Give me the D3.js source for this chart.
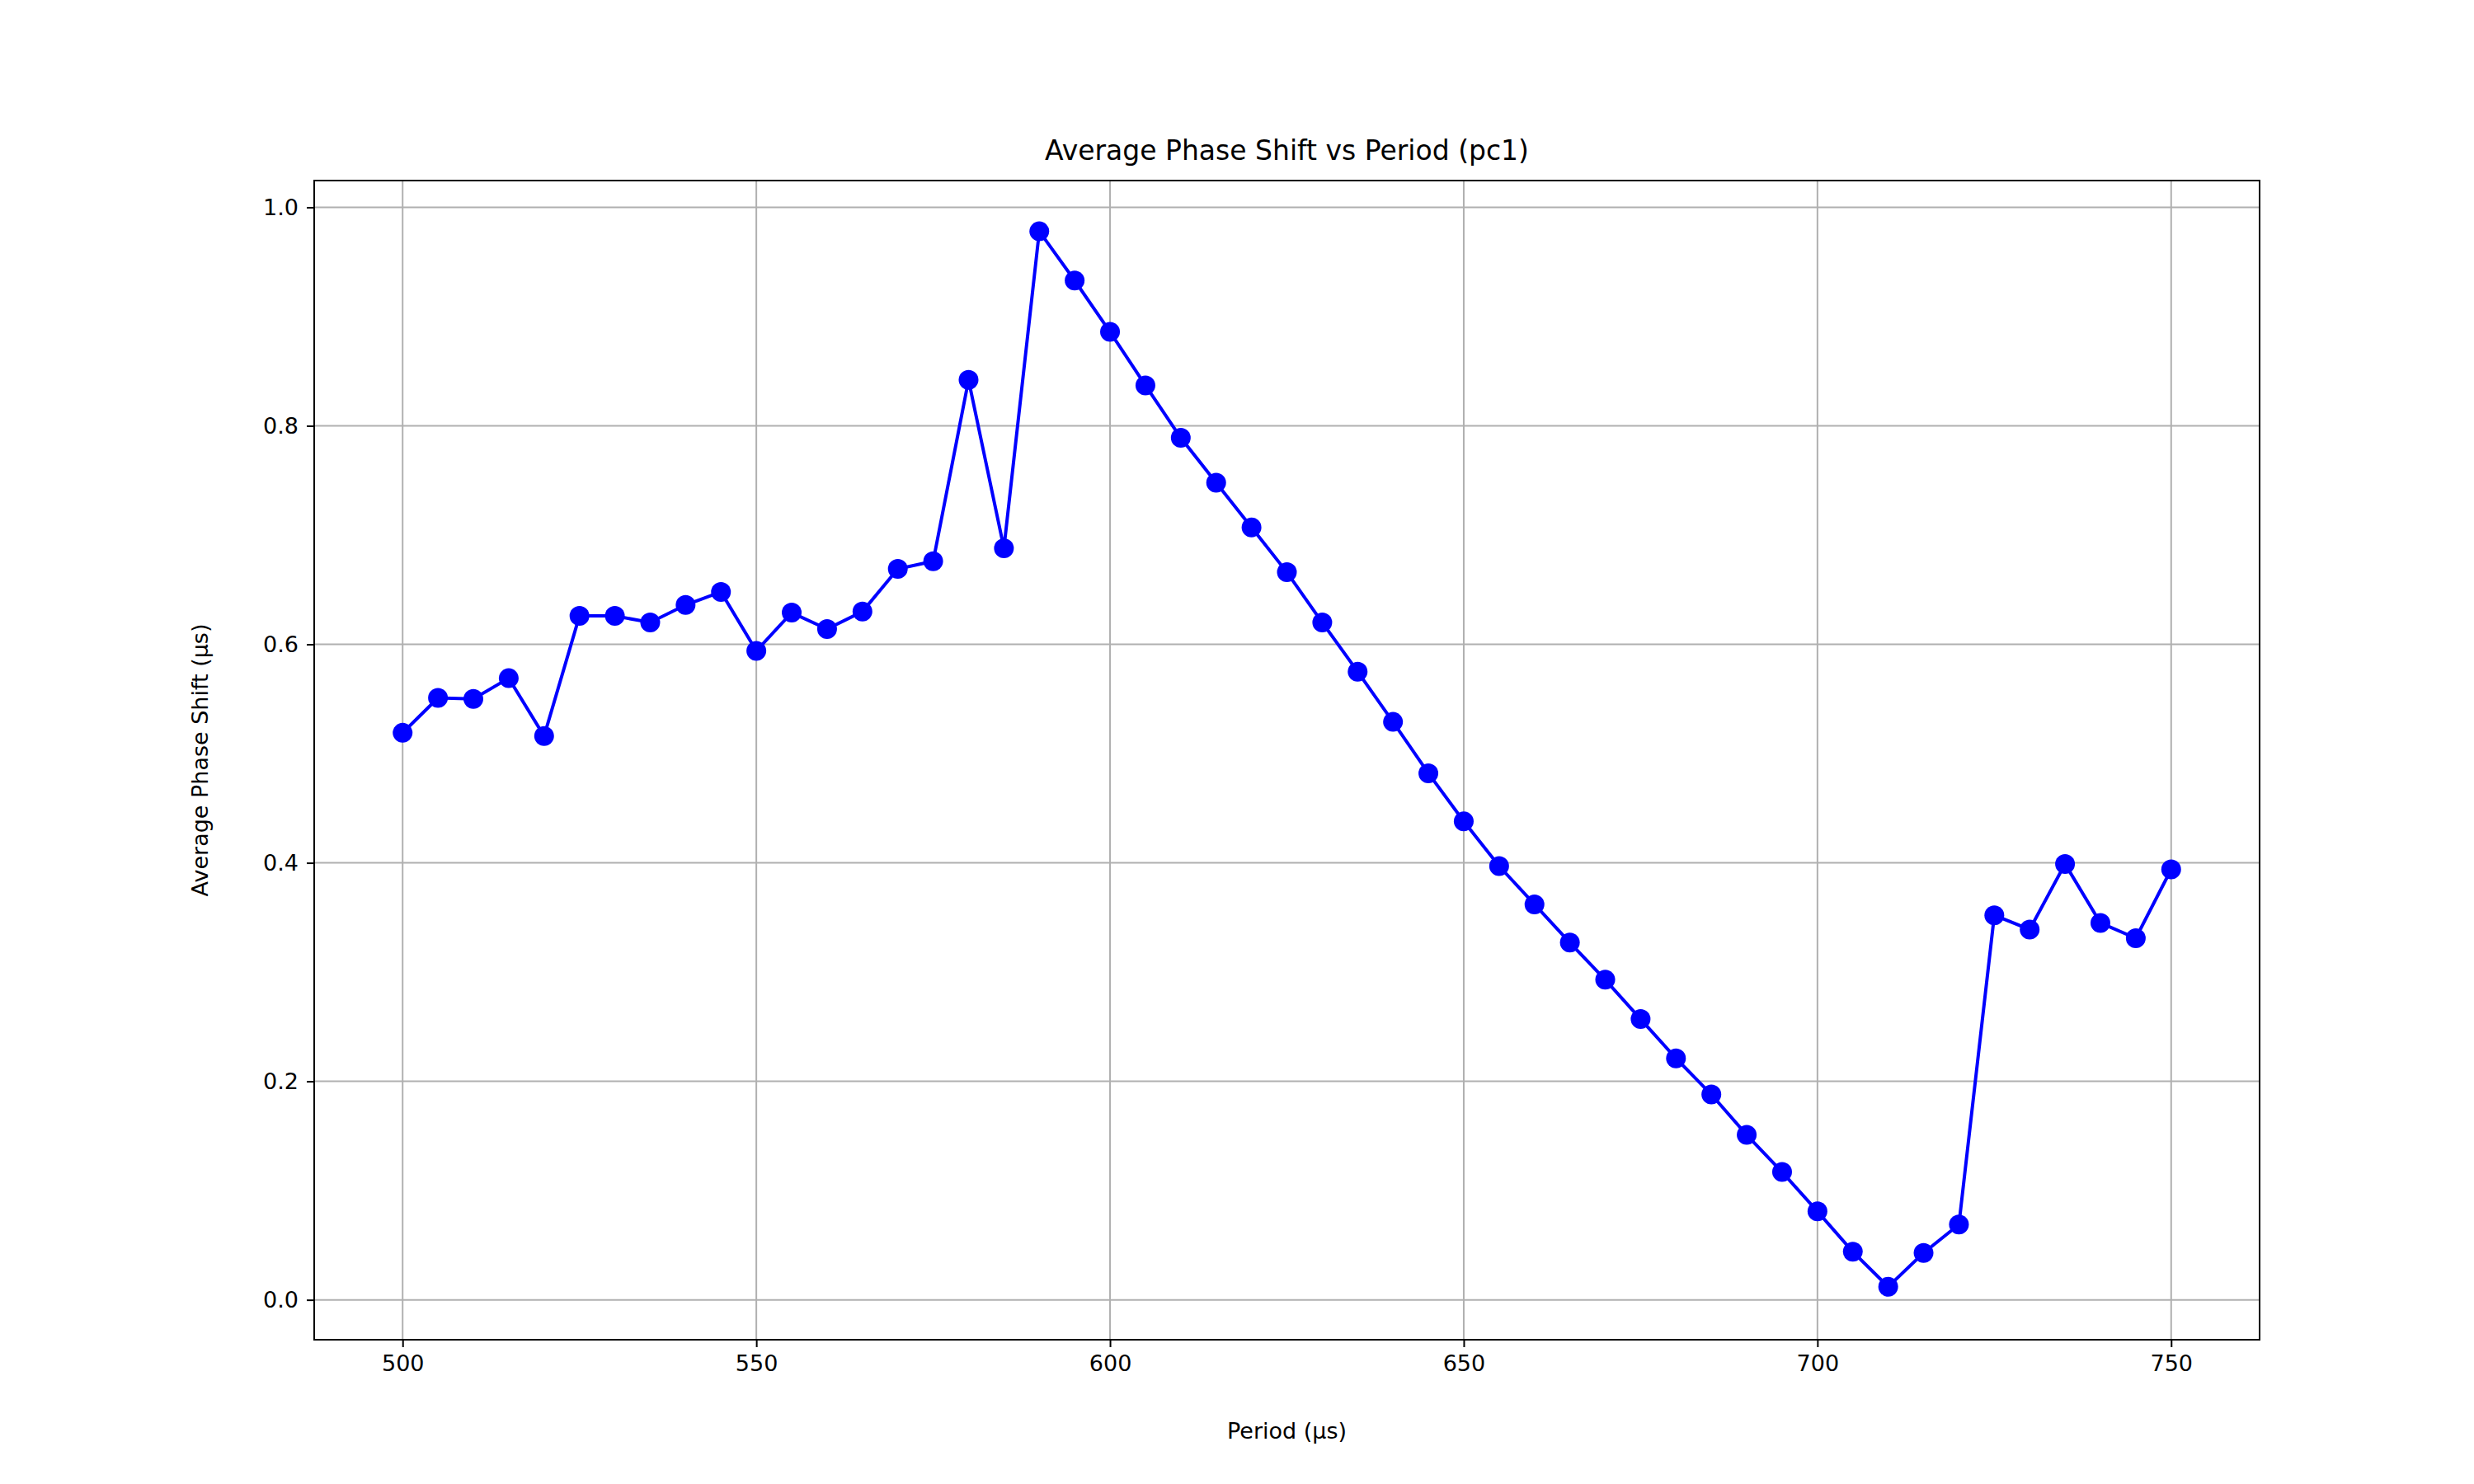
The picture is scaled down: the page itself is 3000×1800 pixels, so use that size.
<!DOCTYPE html>
<html>
<head>
<meta charset="utf-8">
<script src="https://cdn.jsdelivr.net/npm/d3@7"></script>
<style>
  body { margin: 0; background: #fff; }
  text { font-family: "DejaVu Sans", sans-serif; }
</style>
</head>
<body>
<div id="chart"></div>
<script>
const periods = [500,505,510,515,520,525,530,535,540,545,550,555,560,565,570,575,580,585,590,595,
  600,605,610,615,620,625,630,635,640,645,650,655,660,665,670,675,680,685,690,695,
  700,705,710,715,720,725,730,735,740,745,750];
const shifts = [0.519,0.551,0.550,0.569,0.516,0.626,0.626,0.620,0.636,0.648,0.594,0.629,0.614,0.630,0.669,0.676,0.842,0.688,0.978,0.933,
  0.886,0.837,0.789,0.748,0.707,0.666,0.620,0.575,0.529,0.482,0.438,0.397,0.362,0.327,0.293,0.257,0.221,0.188,0.151,0.117,
  0.081,0.044,0.012,0.043,0.069,0.352,0.339,0.399,0.345,0.331,0.394];
const xTicks = [500,550,600,650,700,750];
const yTicks = [0,0.2,0.4,0.6,0.8,1.0];

const width = 3000, height = 1800;
const mLeft = 381, mRight = 2740, mTop = 219, mBottom = 1625;

const x = d3.scaleLinear().domain([487.5, 762.5]).range([mLeft, mRight]);
const y = d3.scaleLinear().domain([-0.0365, 1.0245]).range([mBottom, mTop]);

const svg = d3.select('#chart').append('svg')
  .attr('width', width).attr('height', height);

// grid
svg.append('g').selectAll('line').data(xTicks).enter().append('line')
  .attr('x1', d => x(d)).attr('x2', d => x(d)).attr('y1', mTop).attr('y2', mBottom)
  .attr('stroke', '#b0b0b0').attr('stroke-width', 2);
svg.append('g').selectAll('line').data(yTicks).enter().append('line')
  .attr('y1', d => y(d)).attr('y2', d => y(d)).attr('x1', mLeft).attr('x2', mRight)
  .attr('stroke', '#b0b0b0').attr('stroke-width', 2);

const xAxis = svg.append('g').attr('transform', `translate(0,${mBottom})`)
  .call(d3.axisBottom(x).tickValues(xTicks).tickFormat(d3.format('d')).tickSize(9).tickPadding(10));
const yAxis = svg.append('g').attr('transform', `translate(${mLeft},0)`)
  .call(d3.axisLeft(y).tickValues(yTicks).tickFormat(d3.format('.1f')).tickSize(9).tickPadding(10));
[xAxis, yAxis].forEach(a => {
  a.select('.domain').remove();
  a.selectAll('line').attr('stroke-width', 2);
  a.selectAll('text').attr('font-size', 27).attr('font-family', 'DejaVu Sans');
});

svg.append('rect').attr('x', mLeft).attr('y', mTop).attr('width', mRight - mLeft).attr('height', mBottom - mTop)
  .attr('fill', 'none').attr('stroke', '#000').attr('stroke-width', 2);

const pts = periods.map((p, i) => ({ p, v: shifts[i] }));
svg.append('path').datum(pts)
  .attr('d', d3.line().x(d => x(d.p)).y(d => y(d.v)))
  .attr('fill', 'none').attr('stroke', '#0000ff').attr('stroke-width', 4);
svg.append('g').selectAll('circle').data(pts).enter().append('circle')
  .attr('cx', d => x(d.p)).attr('cy', d => y(d.v)).attr('r', 12).attr('fill', '#0000ff');

svg.append('text').attr('x', (mLeft + mRight) / 2).attr('y', mTop - 25)
  .attr('text-anchor', 'middle').attr('font-size', 33).text('Average Phase Shift vs Period (pc1)');
svg.append('text').attr('x', (mLeft + mRight) / 2).attr('y', 1745)
  .attr('text-anchor', 'middle').attr('font-size', 27).text('Period (µs)');
svg.append('text').attr('transform', `translate(252,${(mTop + mBottom) / 2}) rotate(-90)`)
  .attr('text-anchor', 'middle').attr('font-size', 27).text('Average Phase Shift (µs)');
</script>
</body>
</html>
